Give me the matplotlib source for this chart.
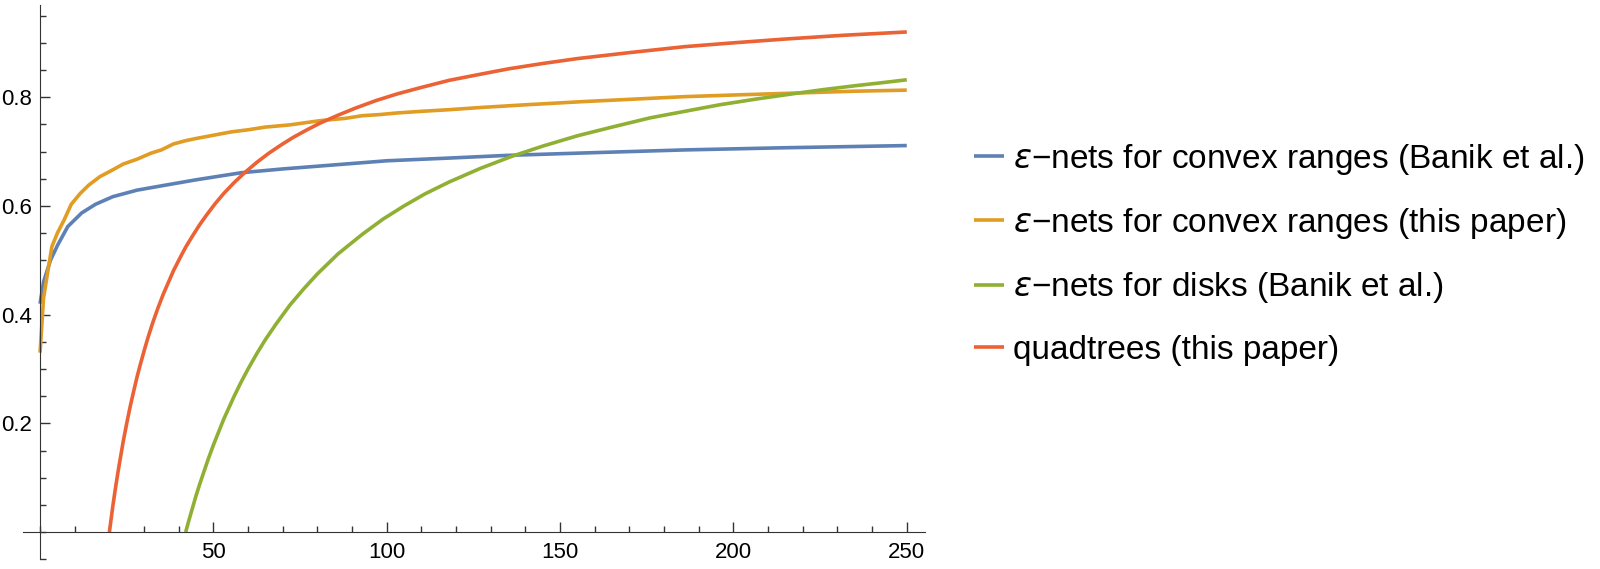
import matplotlib
matplotlib.use("Agg")
import matplotlib.pyplot as plt
from matplotlib.ticker import MultipleLocator, FixedLocator

plt.rcParams['font.family'] = ['Liberation Sans', 'DejaVu Sans']
plt.rcParams['mathtext.fontset'] = 'dejavusans'

# values
blue_x = [0, 1, 2, 3, 5, 8, 12, 16, 21, 28, 36, 45, 58, 70, 84, 100, 118, 135, 160, 186, 215, 250]
blue_y = [0.42, 0.46, 0.48, 0.50, 0.527, 0.562, 0.587, 0.603, 0.617, 0.629, 0.638, 0.648, 0.661, 0.668, 0.675, 0.683, 0.688, 0.693, 0.698, 0.703, 0.707, 0.711]

orange_x = [0, 1, 2, 3.4, 5, 7, 9, 11.6, 14, 17.3, 20, 24, 28, 32, 35, 38.5, 42, 45, 50, 55, 60, 65, 72, 81, 88, 93, 98, 103, 110, 118, 127,
            140, 157, 170, 186, 200, 220, 235, 250]
orange_y = [0.33, 0.43, 0.47, 0.525, 0.55, 0.575, 0.603, 0.623, 0.638, 0.654, 0.663, 0.677, 0.686, 0.697, 0.703, 0.714, 0.72, 0.724, 0.73, 0.736, 0.74, 0.745, 0.749, 0.757, 0.761, 0.766, 0.768, 0.771, 0.774, 0.777, 0.781,
            0.786, 0.792, 0.796, 0.801, 0.804, 0.808, 0.811, 0.813]

green_x = [42, 43, 44, 45, 46, 47, 48.5, 50, 51.5, 53, 54.5, 56, 58, 60, 62.5, 65, 68, 72, 76, 80, 86, 93, 99, 105, 111, 118, 127, 136, 145,
           155, 165, 176, 186, 196, 207, 218, 226, 235, 242, 250]
green_y = [0.0, 0.023, 0.045, 0.067, 0.087, 0.106, 0.134, 0.16, 0.184, 0.208, 0.229, 0.25, 0.276, 0.30, 0.328, 0.354, 0.382, 0.417, 0.447, 0.475, 0.512, 0.548, 0.576, 0.60, 0.622, 0.644, 0.669, 0.691, 0.71,
           0.729, 0.745, 0.762, 0.774, 0.786, 0.797, 0.807, 0.814, 0.821, 0.826, 0.832]

red_x = [20, 20.5, 21, 21.5, 22, 22.5, 23, 24, 25, 26, 27, 28, 29, 30, 31, 32.5, 34, 35.5, 37, 38.5, 40.5, 42, 44, 46, 48, 50.5, 53, 56, 59, 62.5, 66,
         69.5, 73, 77, 81, 86, 91, 97, 103, 110, 118, 126, 135, 145, 155, 170, 186, 200, 215, 232, 250]
red_y = [0.0, 0.024, 0.048, 0.07, 0.091, 0.111, 0.13, 0.167, 0.2, 0.231, 0.259, 0.286, 0.31, 0.333, 0.355, 0.385, 0.412, 0.437, 0.459, 0.481, 0.506, 0.524, 0.545, 0.565, 0.583, 0.604, 0.623, 0.643, 0.661, 0.68, 0.697,
         0.712, 0.726, 0.74, 0.753, 0.767, 0.78, 0.794, 0.806, 0.818, 0.831, 0.841, 0.852, 0.862, 0.871, 0.882, 0.893, 0.9, 0.907, 0.914, 0.92]

labels = [r'$\epsilon$' + '\u2212nets for convex ranges (Banik et al.)',
          r'$\epsilon$' + '\u2212nets for convex ranges (this paper)',
          r'$\epsilon$' + '\u2212nets for disks (Banik et al.)',
          'quadtrees (this paper)']
colors = ['#5E81B5', '#E19C24', '#8FB032', '#EB6235']

fig = plt.figure(figsize=(16, 5.69), dpi=100)
ax = fig.add_axes([0.0142, 0.0172, 0.5638, 0.9744])

series = [(blue_x, blue_y), (orange_x, orange_y), (green_x, green_y), (red_x, red_y)]
for (xs, ys), c, lab in zip(series, colors, labels):
    ax.plot(xs, ys, color=c, lw=2.6, label=lab, solid_capstyle='butt')

ax.set_xlim(-5, 255.2)
ax.set_ylim(-0.05, 0.97)

for s in ['top', 'right']:
    ax.spines[s].set_visible(False)
ax.spines['left'].set_position(('data', 0))
ax.spines['bottom'].set_position(('data', 0))
ax.spines['left'].set_color('#333333')
ax.spines['bottom'].set_color('#333333')

ax.xaxis.set_major_locator(FixedLocator([50, 100, 150, 200, 250]))
ax.xaxis.set_minor_locator(MultipleLocator(10))
ax.yaxis.set_major_locator(FixedLocator([0.2, 0.4, 0.6, 0.8]))
ax.yaxis.set_minor_locator(MultipleLocator(0.05))
ax.set_yticklabels(['0.2', '0.4', '0.6', '0.8'])

ax.tick_params(which='both', direction='in', color='#333333', labelsize=16)
ax.tick_params(which='major', length=7.2, width=1)
ax.tick_params(which='minor', length=4.2, width=1)
ax.tick_params(axis='x', pad=7.5)
ax.tick_params(axis='y', pad=5.5)

fig.legend(loc='center left', bbox_to_anchor=(0.609, 0.554), frameon=False,
           fontsize=24, handlelength=0.9, handletextpad=0.25, labelspacing=0.88,
           borderpad=0, borderaxespad=0)

fig.savefig('out.png', dpi=100)
